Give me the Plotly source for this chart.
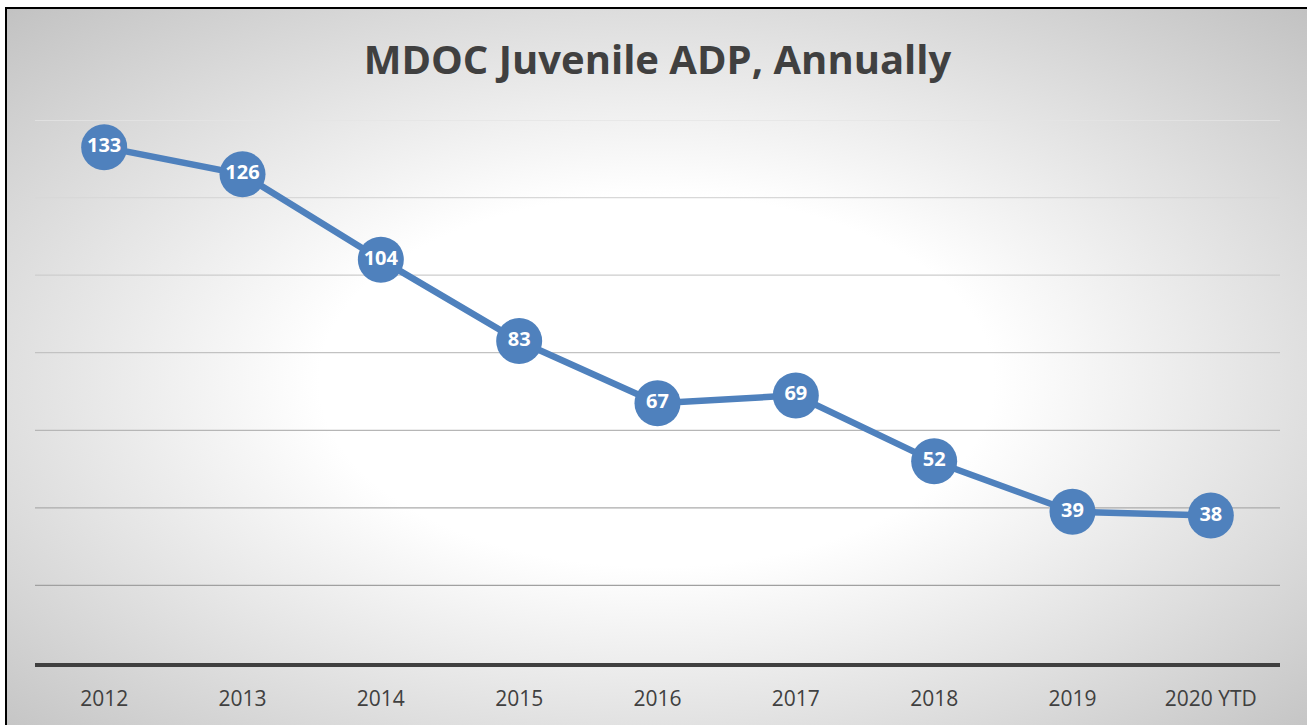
import base64
import plotly.graph_objects as go

years = ["2012", "2013", "2014", "2015", "2016", "2017", "2018", "2019", "2020 YTD"]
adp = [133, 126, 104, 83, 67, 69, 52, 39, 38]
y_ticks = [0, 20, 40, 60, 80, 100, 120, 140]

W, H = 1307, 725
L, R, T, B = 35, 27, 120, 62
pw, ph = W - L - R, H - T - B

def px_x(px):
    return (px - L) / pw

def px_y(py):
    return (H - B - py) / ph

svg = (
    '<svg xmlns="http://www.w3.org/2000/svg" width="1301" height="717" '
    'viewBox="0 0 1301 717" preserveAspectRatio="none">'
    '<defs><radialGradient id="g" cx="0.5" cy="0.52" r="0.72" fx="0.5" fy="0.52">'
    '<stop offset="0" stop-color="#ffffff"/>'
    '<stop offset="0.36" stop-color="#ffffff"/>'
    '<stop offset="1" stop-color="#c2c2c2"/>'
    '</radialGradient></defs>'
    '<rect width="1301" height="717" fill="url(#g)"/></svg>'
)
src = "data:image/svg+xml;base64," + base64.b64encode(svg.encode()).decode()

fig = go.Figure()
fig.add_trace(go.Scatter(
    x=years, y=adp, mode="lines+markers+text",
    line=dict(color="#4f81bd", width=6.5),
    marker=dict(size=46, color="#4f81bd"),
    text=[str(v) for v in adp], textposition="middle center",
    textfont=dict(family="Open Sans", size=20, color="white", weight="bold"),
    cliponaxis=False, hoverinfo="skip",
))

shapes = []
# gradient gridlines (lighter toward the top)
n = len(y_ticks)
for i, t in enumerate(y_ticks[1:], start=1):
    frac = (i - 1) / (n - 2)
    c = int(160 + frac * (228 - 160))
    shapes.append(dict(type="line", xref="paper", yref="y", x0=0, x1=1, y0=t, y1=t,
                       line=dict(color=f"rgb({c},{c},{c})", width=1.3), layer="below"))
# outer border (top & left visible)
shapes.append(dict(type="rect", xref="paper", yref="paper",
                   x0=px_x(6), x1=px_x(1330), y0=px_y(8), y1=px_y(760),
                   line=dict(color="#000000", width=2), fillcolor="rgba(0,0,0,0)", layer="above"))

fig.update_layout(
    width=W, height=H,
    margin=dict(l=L, r=R, t=T, b=B),
    paper_bgcolor="white", plot_bgcolor="rgba(0,0,0,0)",
    showlegend=False,
    title=dict(text="<b>MDOC Juvenile ADP, Annually</b>", x=0.5, xref="paper",
               y=1 - 60 / H, yanchor="middle",
               font=dict(family="Open Sans", size=40, color="#404040")),
    xaxis=dict(type="category", showgrid=False, zeroline=False,
               showline=True, linecolor="#404040", linewidth=4,
               ticks="", ticklabelstandoff=14,
               tickfont=dict(family="Open Sans", size=21, color="#404040"),
               range=[-0.5, len(years) - 0.5]),
    yaxis=dict(range=[0, 140], tickvals=y_ticks, showticklabels=False, showgrid=False,
               zeroline=False, showline=False),
    images=[dict(source=src, xref="paper", yref="paper", x=px_x(6), y=px_y(8),
                 sizex=(W - 6) / pw, sizey=(H - 8) / ph, sizing="stretch",
                 xanchor="left", yanchor="top", layer="below")],
    shapes=shapes,
)
fig.write_html("out.html", config={"displayModeBar": False},
               post_script="document.body.style.margin='0';document.body.style.overflow='hidden';")
